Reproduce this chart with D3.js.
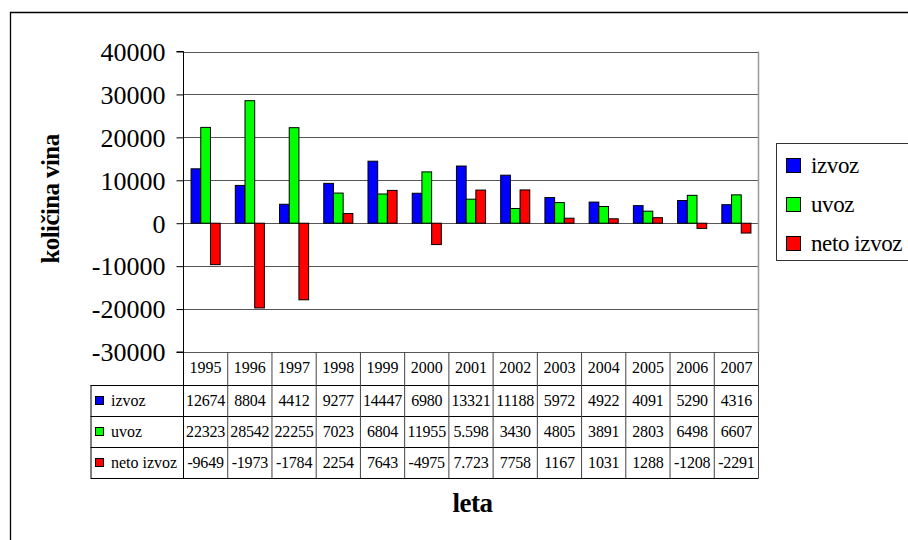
<!DOCTYPE html>
<html>
<head>
<meta charset="utf-8">
<script src="https://cdn.jsdelivr.net/npm/d3@7"></script>
<style>
  html, body { margin: 0; padding: 0; background: #fff; }
  svg { display: block; }
</style>
</head>
<body>
<svg id="chart" width="908" height="540"></svg>
<script>
// ---- data ----
const years = ["1995","1996","1997","1998","1999","2000","2001","2002","2003","2004","2005","2006","2007"];
const seriesNames = ["izvoz", "uvoz", "neto izvoz"];
const izvoz = [12674, 8804, 4412, 9277, 14447, 6980, 13321, 11188, 5972, 4922, 4091, 5290, 4316];
const uvoz  = [22323, 28542, 22255, 7023, 6804, 11955, 5598, 3430, 4805, 3891, 2803, 6498, 6607];
const neto  = [-9649, -19738, -17843, 2254, 7643, -4975, 7723, 7758, 1167, 1031, 1288, -1208, -2291];
// table text as printed in the data table
const izvozLabels = ["12674","8804","4412","9277","14447","6980","13321","11188","5972","4922","4091","5290","4316"];
const uvozLabels  = ["22323","28542","22255","7023","6804","11955","5.598","3430","4805","3891","2803","6498","6607"];
const netoLabels  = ["-9649","-1973","-1784","2254","7643","-4975","7.723","7758","1167","1031","1288","-1208","-2291"];
const yTicks = [40000, 30000, 20000, 10000, 0, -10000, -20000, -30000];
const colors = ["#0000ff", "#00ff00", "#ff0000"];

const FONT = '"Liberation Serif", "Times New Roman", serif';
const svg = d3.select("#chart");

// outer frame
svg.append("path").attr("d", "M10.5,540 L10.5,12.5 L908,12.5")
  .attr("fill", "none").attr("stroke", "#000").attr("stroke-width", 1.3);

const plot = { left: 183.5, right: 758.5, top: 51.5, bottom: 352 };

const x = d3.scaleBand().domain(years).range([plot.left, plot.right]).paddingInner(0).paddingOuter(0);
const y = d3.scaleLinear().domain([-30000, 40000]).range([plot.bottom, plot.top]);
const barW = 9.7;

// gridlines
svg.append("g").selectAll("line").data(yTicks).join("line")
  .attr("x1", plot.left).attr("x2", plot.right)
  .attr("y1", d => Math.round(y(d)) + 0.5).attr("y2", d => Math.round(y(d)) + 0.5)
  .attr("stroke", "#555").attr("stroke-width", 1);

// plot right border
svg.append("line").attr("x1", plot.right).attr("x2", plot.right)
  .attr("y1", plot.top).attr("y2", plot.bottom).attr("stroke", "#999").attr("stroke-width", 1.5);

// bars
const series = [izvoz, uvoz, neto];
const gap = x.bandwidth() - 3 * barW;
series.forEach((vals, si) => {
  svg.append("g").selectAll("rect").data(vals).join("rect")
    .attr("x", (d, i) => x(years[i]) + gap / 2 + si * barW)
    .attr("width", barW)
    .attr("y", d => y(Math.max(0, d)))
    .attr("height", d => Math.abs(y(d) - y(0)))
    .attr("fill", colors[si]).attr("stroke", "#000").attr("stroke-width", 1);
});

// y axis
const yAxis = d3.axisLeft(y).tickValues(yTicks).tickSize(7).tickPadding(11)
  .tickFormat(d => d < 0 ? "-" + Math.abs(d) : String(d));
const gy = svg.append("g").attr("transform", `translate(${plot.left},0)`).call(yAxis);
gy.attr("font-family", null).attr("font-size", null);
gy.select(".domain").attr("stroke", "#000").attr("d", `M-7,${plot.top}H0V${plot.bottom}H-7`);
gy.selectAll(".tick line").attr("stroke", "#000");
gy.selectAll("text").style("font-size", "26px").attr("dy", "0.34em");

// y title
svg.append("text").attr("transform", "translate(59,199) rotate(-90)")
  .attr("text-anchor", "middle").style("font-size", "25px").style("font-weight", "bold")
  .attr("letter-spacing", -0.6).text("količina vina");

// data table
const rowY = [352, 385, 416, 447, 478];
const tbl = svg.append("g");
const tableLeft = 90.5;
tbl.selectAll("line.h").data(rowY.slice(1)).join("line").attr("class", "h")
  .attr("x1", tableLeft).attr("x2", plot.right).attr("y1", d => d + 0.5).attr("y2", d => d + 0.5)
  .attr("stroke", "#000");
tbl.append("line").attr("x1", tableLeft + 0.5).attr("x2", tableLeft + 0.5).attr("y1", rowY[1]).attr("y2", rowY[4]).attr("stroke", "#000");
const colX = years.map(yv => x(yv)).concat([plot.right]);
tbl.selectAll("line.v").data(colX).join("line").attr("class", "v")
  .attr("x1", d => d).attr("x2", d => d).attr("y1", rowY[0]).attr("y2", rowY[4])
  .attr("stroke", (d, i) => i === 0 ? "#000" : "#444");
tbl.selectAll("text.yr").data(years).join("text").attr("class", "yr")
  .attr("x", d => x(d) + x.bandwidth() / 2).attr("y", rowY[0] + 21)
  .attr("text-anchor", "middle").style("font-size", "16px").text(d => d);
const labelRows = [izvozLabels, uvozLabels, netoLabels];
labelRows.forEach((labels, ri) => {
  tbl.append("g").selectAll("text").data(labels).join("text")
    .attr("x", (d, i) => x(years[i]) + x.bandwidth() / 2).attr("y", rowY[ri + 1] + 21)
    .attr("text-anchor", "middle").style("font-size", "16px").attr("letter-spacing", -0.2).text(d => d);
  tbl.append("rect").attr("x", 95.5).attr("y", rowY[ri + 1] + 11.5).attr("width", 8).attr("height", 8)
    .attr("fill", colors[ri]).attr("stroke", "#000").attr("stroke-width", 1);
  tbl.append("text").attr("x", 111).attr("y", rowY[ri + 1] + 21)
    .style("font-size", "16px").text(seriesNames[ri]);
});

// x title
svg.append("text").attr("x", 472.5).attr("y", 512).attr("text-anchor", "middle")
  .style("font-size", "27px").style("font-weight", "bold").attr("letter-spacing", -0.5).text("leta");

// legend
svg.append("rect").attr("x", 776.5).attr("y", 143.5).attr("width", 140).attr("height", 117)
  .attr("fill", "#fff").attr("stroke", "#333").attr("stroke-width", 1);
const lg = svg.append("g").selectAll("g").data(seriesNames).join("g")
  .attr("transform", (d, i) => `translate(786,${158 + i * 39})`);
lg.append("rect").attr("x", 0.5).attr("y", 0.5).attr("width", 14).attr("height", 14)
  .attr("fill", (d, i) => colors[i]).attr("stroke", "#000").attr("stroke-width", 1);
lg.append("text").attr("x", 25).attr("y", 15).style("font-size", "23px").attr("letter-spacing", -0.4).text(d => d);

// apply serif font to all texts
svg.selectAll("text").style("font-family", FONT).attr("fill", "#000");
</script>
</body>
</html>
